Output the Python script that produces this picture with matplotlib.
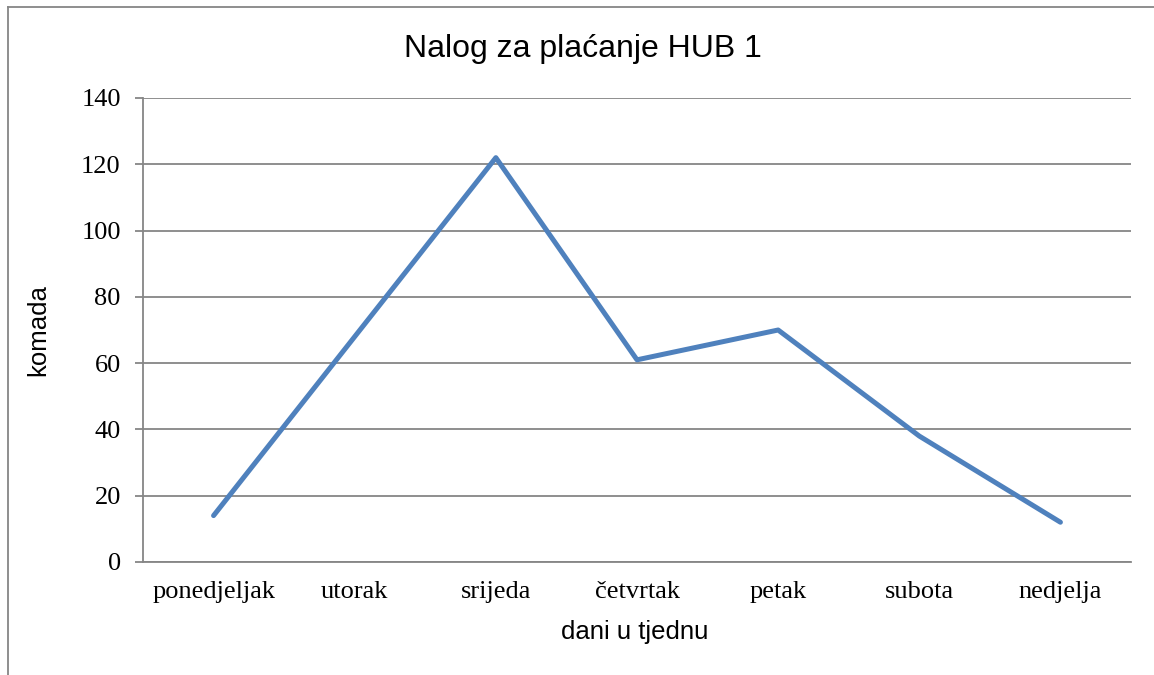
import matplotlib
matplotlib.use("Agg")
import matplotlib.pyplot as plt
from matplotlib.lines import Line2D

days = ["ponedjeljak", "utorak", "srijeda", "četvrtak", "petak", "subota", "nedjelja"]
values = [14, 68, 122, 61, 70, 38, 12]
yticks = [0, 20, 40, 60, 80, 100, 120, 140]

W, H = 1154, 675
fig = plt.figure(figsize=(W / 100, H / 100), dpi=100)
L, R, T, B = 143, 1131, 98, 562
ax = fig.add_axes([L / W, 1 - B / H, (R - L) / W, (B - T) / H])

grid_c = "#868686"
ax.plot(range(len(days)), values, color="#4F81BD", lw=3.6, solid_capstyle="round", zorder=3)
ax.set_xlim(-0.5, len(days) - 0.5)
ax.set_ylim(0, 140)
ax.set_yticks(yticks)
ax.set_xticks(range(len(days)))
ax.set_xticklabels(days)
ax.yaxis.grid(True, color=grid_c, lw=1.3)
ax.set_axisbelow(True)
for s in ["top", "right"]:
    ax.spines[s].set_visible(False)
for s in ["left", "bottom"]:
    ax.spines[s].set_color(grid_c)
    ax.spines[s].set_linewidth(1.3)
ax.tick_params(axis="y", length=6, width=1.3, color=grid_c, pad=10, labelsize=19)
ax.tick_params(axis="x", length=0, pad=14, labelsize=19)
for lab in ax.get_xticklabels() + ax.get_yticklabels():
    lab.set_fontfamily("Liberation Serif")

fig.text(583 / W, 1 - 49 / H, "Nalog za plaćanje HUB 1", ha="center", va="center",
         fontsize=23, family="Liberation Sans")
fig.text(38 / W, 1 - 330 / H, "komada", ha="center", va="center", rotation=90,
         fontsize=18.5, family="Liberation Sans")
fig.text(635 / W, 1 - 632 / H, "dani u tjednu", ha="center", va="center",
         fontsize=18.5, family="Liberation Sans")

fig.add_artist(Line2D([8 / W, 8 / W], [0, 1 - 7 / H], transform=fig.transFigure, color=grid_c, lw=1.3))
fig.add_artist(Line2D([8 / W, 1], [1 - 7 / H, 1 - 7 / H], transform=fig.transFigure, color=grid_c, lw=1.3))

fig.savefig("out.png", dpi=100, facecolor="white")
